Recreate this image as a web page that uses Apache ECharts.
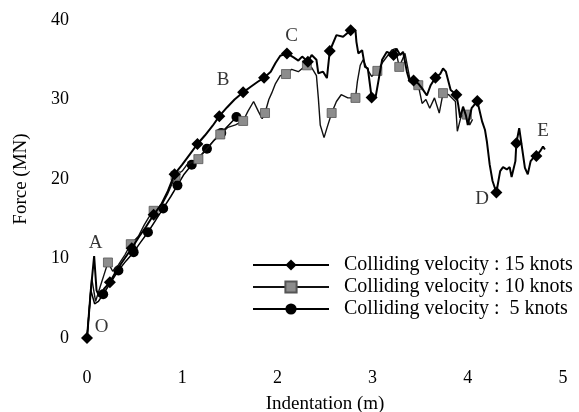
<!DOCTYPE html>
<html><head><meta charset="utf-8">
<script src="https://cdn.jsdelivr.net/npm/echarts@6/dist/echarts.min.js"></script>
<style>html,body{margin:0;padding:0;background:#fff}#c{width:579px;height:412px}</style>
</head><body><div id="c"></div>
<script>
// ---- data ----
const seriesNames = ['Colliding velocity : 15 knots', 'Colliding velocity : 10 knots', 'Colliding velocity :  5 knots'];

// 15 knots: [indentation (m), force (MN)]
const s15 = [[0,0],[0.04,6],[0.075,10.3],[0.1,6.0],[0.13,5.2],[0.18,6.2],[0.24,7.0],[0.31,8.5],[0.39,9.9],[0.47,11.3],[0.55,12.8],[0.62,14.0],[0.70,15.5],[0.78,16.8],[0.85,18.5],[0.92,20.6],[1.0,21.8],[1.08,23.1],[1.16,24.4],[1.24,25.5],[1.32,26.7],[1.39,27.9],[1.47,29.0],[1.55,30.0],[1.64,30.9],[1.72,31.6],[1.79,32.2],[1.86,32.75],[1.93,33.5],[1.98,34.6],[2.03,35.5],[2.10,35.8],[2.17,35.3],[2.22,34.9],[2.26,35.4],[2.32,34.75],[2.36,35.6],[2.41,35.0],[2.43,33.3],[2.48,33.5],[2.52,32.7],[2.55,36.1],[2.62,38.1],[2.69,37.9],[2.77,38.7],[2.82,38.7],[2.83,37.25],[2.85,35.8],[2.89,36.2],[2.92,34.1],[2.95,33.9],[2.99,30.25],[3.03,30.2],[3.06,32.25],[3.10,35.0],[3.15,36.0],[3.22,35.6],[3.25,36.4],[3.29,35.6],[3.32,36.0],[3.36,33.5],[3.39,32.25],[3.43,32.4],[3.48,32.0],[3.52,31.4],[3.57,30.5],[3.61,31.8],[3.66,32.75],[3.71,33.2],[3.74,33.9],[3.77,33.5],[3.82,31.2],[3.88,30.6],[3.90,29.3],[3.92,27.7],[3.95,29.1],[3.98,28.0],[4.0,26.8],[4.04,28.9],[4.10,29.8],[4.15,27.25],[4.18,26.2],[4.20,24.75],[4.23,21.8],[4.26,19.75],[4.30,18.3],[4.34,21.0],[4.37,21.5],[4.41,21.2],[4.44,21.5],[4.46,20.25],[4.50,22.25],[4.51,24.5],[4.54,26.4],[4.57,23.9],[4.60,21.4],[4.63,20.6],[4.66,22.25],[4.69,22.7],[4.72,22.9],[4.76,23.5],[4.79,24.1],[4.81,23.7]];
const m15 = [0,0.24,0.47,0.70,0.92,1.16,1.39,1.64,1.86,2.10,2.32,2.55,2.77,2.99,3.22,3.43,3.66,3.88,4.10,4.30,4.51,4.72];

// 10 knots
const s10 = [[0,0],[0.05,7.5],[0.09,4.6],[0.14,6.5],[0.18,8.0],[0.22,9.5],[0.27,8.4],[0.33,9.2],[0.40,10.5],[0.46,11.8],[0.54,12.8],[0.60,14.2],[0.65,15.2],[0.70,16.0],[0.77,16.4],[0.85,18.2],[0.93,20.4],[1.0,21.0],[1.05,21.8],[1.12,22.2],[1.17,22.5],[1.25,23.7],[1.33,24.8],[1.40,25.6],[1.48,26.5],[1.56,26.8],[1.64,27.3],[1.69,28.5],[1.75,29.75],[1.80,28.5],[1.84,27.6],[1.87,28.3],[1.91,30.0],[1.94,30.8],[1.98,32.0],[2.03,33.0],[2.09,33.2],[2.15,33.8],[2.22,33.5],[2.27,34.0],[2.31,34.3],[2.36,34.0],[2.41,33.0],[2.43,30.2],[2.45,26.8],[2.49,25.2],[2.52,26.4],[2.57,28.3],[2.62,29.75],[2.67,30.6],[2.74,30.2],[2.82,30.2],[2.84,32.25],[2.87,34.3],[2.90,35.0],[2.94,33.9],[2.99,32.9],[3.05,33.6],[3.11,34.75],[3.20,36.2],[3.24,36.4],[3.28,34.1],[3.34,35.8],[3.36,35.6],[3.39,32.7],[3.44,32.2],[3.48,31.8],[3.52,29.5],[3.56,30.0],[3.60,28.9],[3.65,30.2],[3.70,28.3],[3.74,30.8],[3.80,30.6],[3.87,29.75],[3.89,26.0],[3.93,27.9],[3.99,28.1],[4.02,26.8],[4.05,27.5]];
const m10 = [0.22,0.46,0.70,0.93,1.17,1.40,1.64,1.87,2.09,2.31,2.57,2.82,3.05,3.28,3.48,3.74,3.99];

// 5 knots
const s5 = [[0,0],[0.04,6.0],[0.08,4.3],[0.12,4.6],[0.17,5.5],[0.25,7.0],[0.33,8.5],[0.41,9.7],[0.49,10.8],[0.56,12.0],[0.64,13.3],[0.72,14.8],[0.80,16.3],[0.88,17.8],[0.95,19.2],[1.02,20.6],[1.10,21.8],[1.18,22.8],[1.26,23.8],[1.33,24.8],[1.41,25.8],[1.49,26.8],[1.57,27.8],[1.62,27.3]];
const m5 = [0.17,0.33,0.49,0.64,0.80,0.95,1.10,1.26,1.41,1.57];

// point labels
const noteNames = ['O','A','B','C','D','E'];
const noteX = [0.154,0.09,1.43,2.15,4.15,4.79];
const noteY = [1.4,11.9,32.5,38.0,17.5,26.0];

// ---- chart ----
const FONT = 'Liberation Serif';
function build(data, marks, sym) {
  return data.map(p => ({ value: p, symbol: marks.includes(p[0]) ? sym : 'none' }));
}
const chart = echarts.init(document.getElementById('c'), null, { renderer: 'canvas' });
chart.setOption({
  animation: false,
  backgroundColor: '#fff',
  textStyle: { fontFamily: FONT, color: '#000' },
  grid: { left: 87, right: 16, top: 20, bottom: 74, containLabel: false, outerBoundsMode: 'none' },
  xAxis: {
    type: 'value', min: 0, max: 5, interval: 1,
    name: 'Indentation (m)', nameLocation: 'middle', nameGap: 57,
    nameTextStyle: { fontFamily: FONT, fontSize: 19, color: '#000' },
    axisLine: { show: false }, axisTick: { show: false }, splitLine: { show: false },
    axisLabel: { margin: 31, fontFamily: FONT, fontSize: 18, color: '#000' }
  },
  yAxis: {
    type: 'value', min: 0, max: 40, interval: 10,
    name: 'Force (MN)', nameLocation: 'middle', nameGap: 56, nameRotate: 90,
    nameTextStyle: { fontFamily: FONT, fontSize: 19, color: '#000' },
    axisLine: { show: false }, axisTick: { show: false }, splitLine: { show: false },
    axisLabel: { margin: 18, fontFamily: FONT, fontSize: 18, color: '#000' }
  },
  legend: {
    data: seriesNames, orient: 'vertical', left: 252, top: 255, padding: 0,
    itemWidth: 76, itemHeight: 14, itemGap: 2,
    textStyle: { fontFamily: FONT, fontSize: 20, color: '#000', padding: [0, 0, 0, 10] }
  },
  series: [
    { name: seriesNames[2], type: 'line', data: build(s5, m5, 'circle'), symbol: 'circle', symbolSize: 10,
      showAllSymbol: true, lineStyle: { color: '#000', width: 1.5 }, itemStyle: { color: '#000' }, z: 3 },
    { name: seriesNames[1], type: 'line', data: build(s10, m10, 'rect'), symbol: 'rect', symbolSize: 9,
      showAllSymbol: true, lineStyle: { color: '#111', width: 1.4 }, itemStyle: { color: '#8c8c8c', borderColor: '#555', borderWidth: 0.8 }, z: 4 },
    { name: seriesNames[0], type: 'line', data: build(s15, m15, 'diamond'), symbol: 'diamond', symbolSize: 12,
      showAllSymbol: true, lineStyle: { color: '#000', width: 2 }, itemStyle: { color: '#000' }, z: 5 },
    { name: 'notes', type: 'scatter', symbolSize: 0, z: 6,
      data: noteNames.map((n, i) => ({ name: n, value: [noteX[i], noteY[i]] })),
      label: { show: true, position: 'inside', formatter: '{b}', fontFamily: FONT, fontSize: 19, color: '#000' } }
  ]
});
</script></body></html>
